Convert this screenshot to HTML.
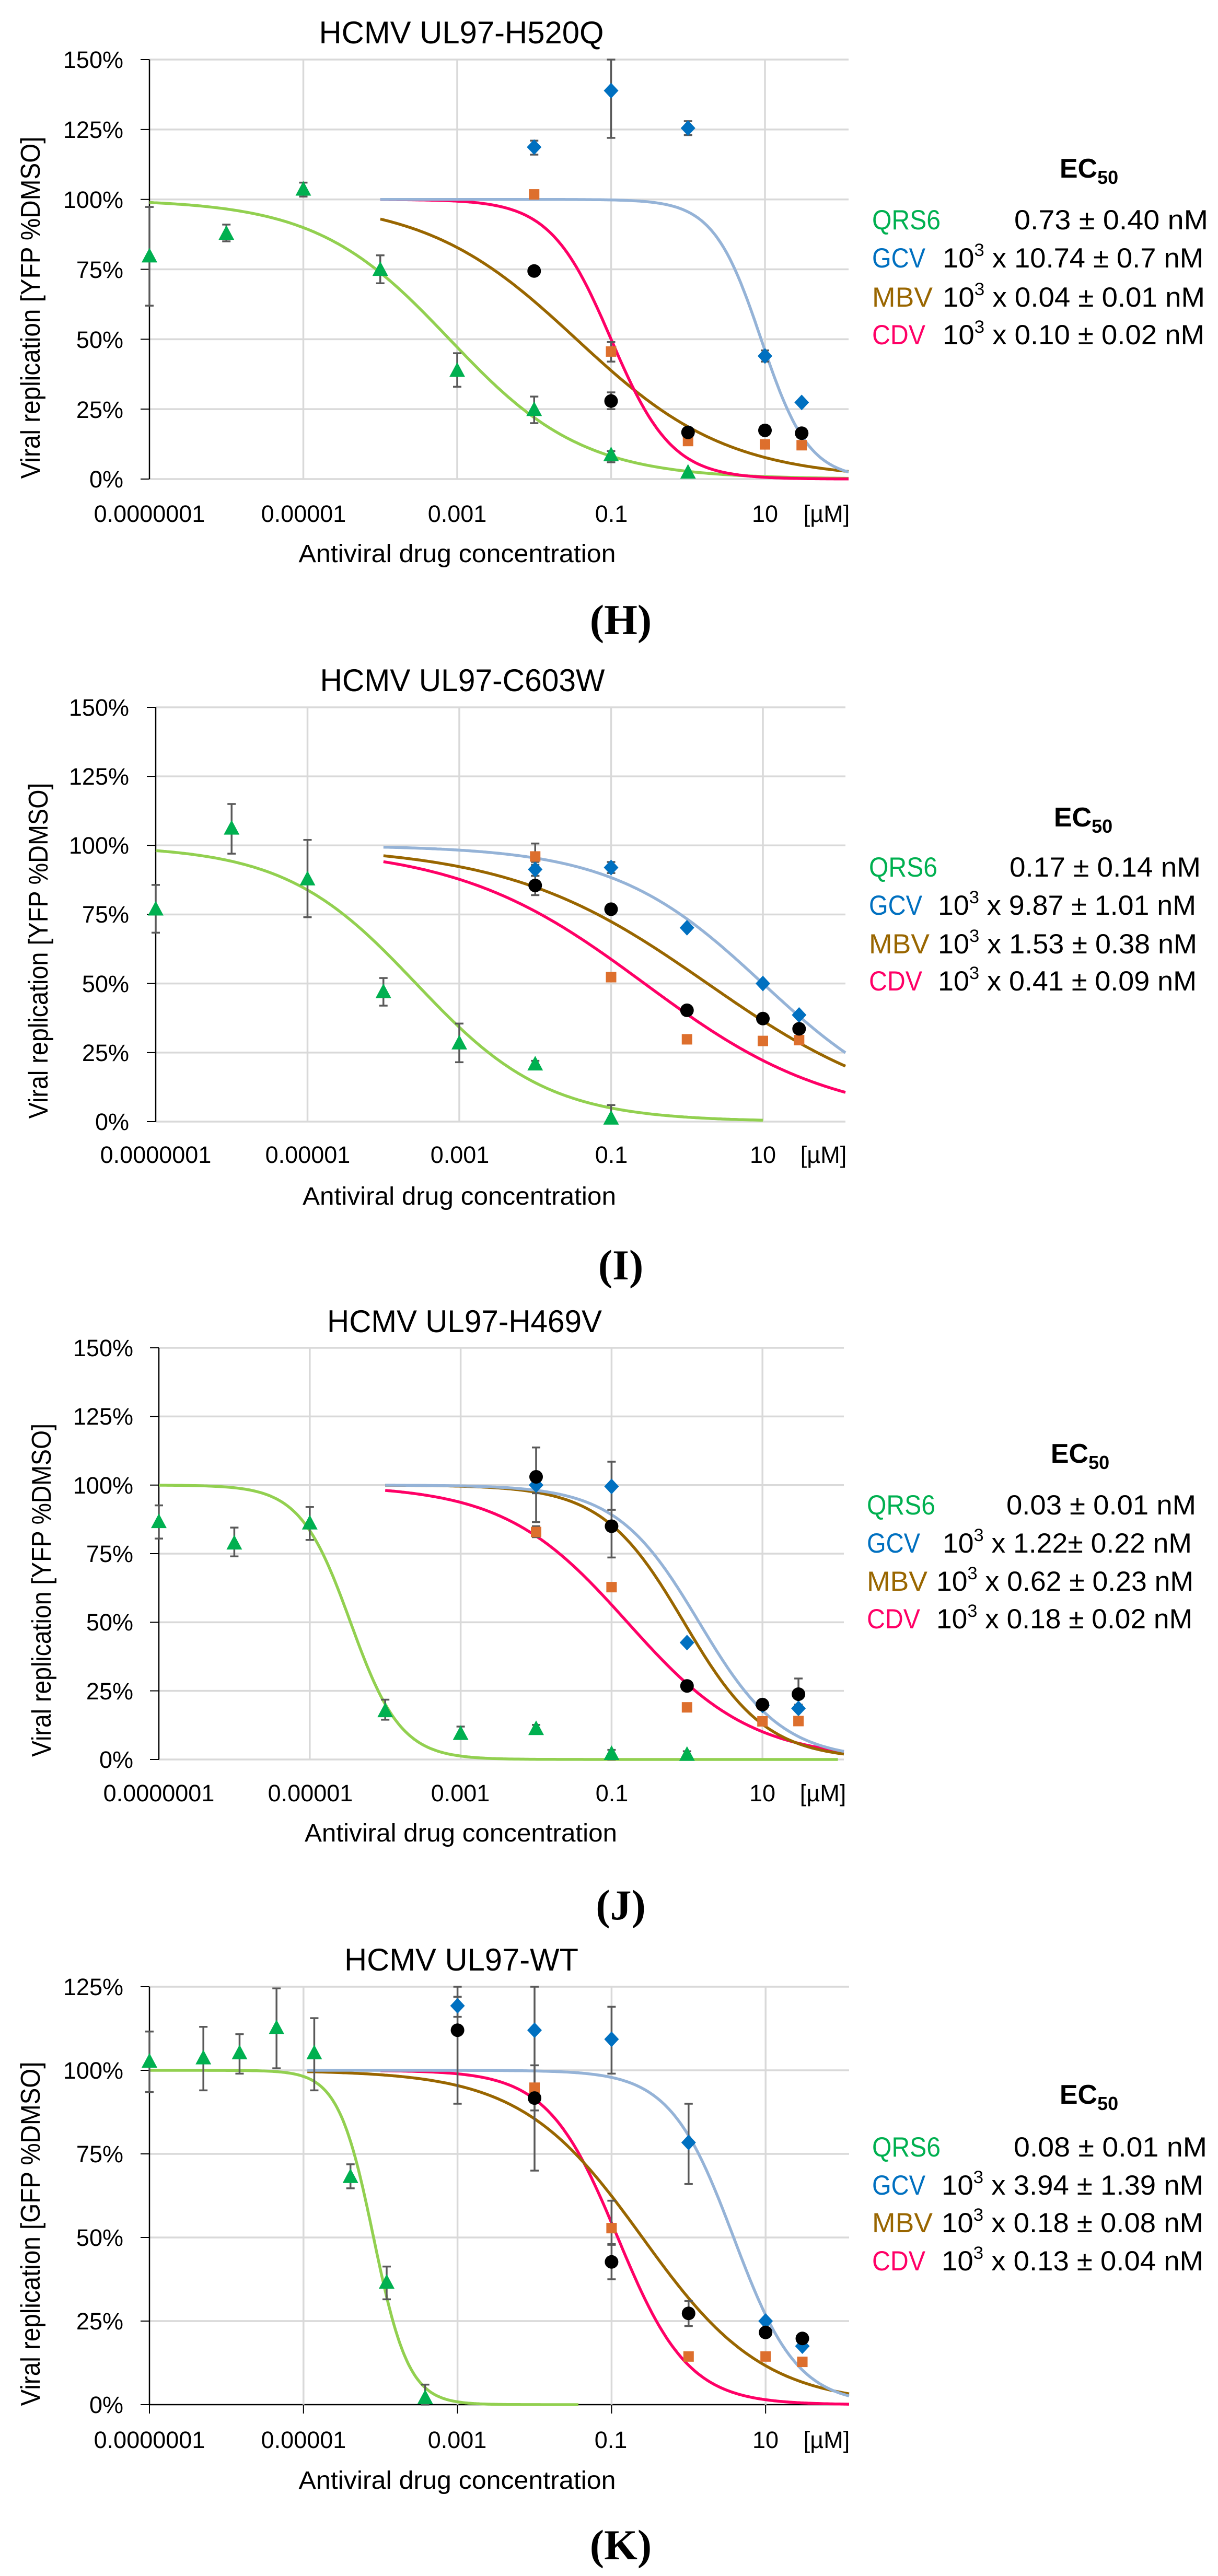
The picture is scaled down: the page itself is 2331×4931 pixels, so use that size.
<!DOCTYPE html>
<html><head><meta charset="utf-8"><style>
html,body{margin:0;padding:0;background:#fff;}
svg{display:block;}
text{font-family:"Liberation Sans",sans-serif;}
.t{font-size:60px;fill:#000;}
.tk{font-size:45px;fill:#000;}
.ax{font-size:48px;fill:#000;}
.yt{font-size:52px;fill:#000;}
.pl{font-family:"Liberation Serif",serif;font-weight:bold;font-size:82px;fill:#000;}
.lg{font-size:53px;}
.ec{font-size:52px;font-weight:bold;}
</style></head><body>
<svg id="s" width="2331" height="4931" viewBox="0 0 2331 4931" xmlns="http://www.w3.org/2000/svg">
<rect width="2331" height="4931" fill="#fff"/>
<g id="shapes"></g>

<!-- Panel H -->
<text class="t" x="883" y="83" text-anchor="middle" textLength="545" lengthAdjust="spacingAndGlyphs">HCMV UL97-H520Q</text>
<g class="tk" text-anchor="end">
<text x="236" y="130">150%</text><text x="236" y="264">125%</text><text x="236" y="398">100%</text><text x="236" y="532">75%</text><text x="236" y="666">50%</text><text x="236" y="800">25%</text><text x="236" y="933">0%</text>
</g>
<g class="tk" text-anchor="middle">
<text x="286" y="999">0.0000001</text><text x="581" y="999">0.00001</text><text x="875" y="999">0.001</text><text x="1170" y="999">0.1</text><text x="1464" y="999">10</text><text x="1582" y="999">[µM]</text>
</g>
<text class="ax" x="875" y="1076" text-anchor="middle" textLength="607" lengthAdjust="spacingAndGlyphs">Antiviral drug concentration</text>
<text class="yt" transform="translate(76,589) rotate(-90)" text-anchor="middle" textLength="655" lengthAdjust="spacingAndGlyphs">Viral replication [YFP %DMSO]</text>
<text class="pl" x="1188" y="1214" text-anchor="middle">(H)</text>
<text class="ec" x="2084" y="340" text-anchor="middle">EC<tspan font-size="36" dy="12">50</tspan></text>
<text class="lg" x="1669" y="439" fill="#00B050" textLength="131" lengthAdjust="spacingAndGlyphs">QRS6</text>
<text class="lg" x="1669" y="512" fill="#0070C0" textLength="102" lengthAdjust="spacingAndGlyphs">GCV</text>
<text class="lg" x="1669" y="587" fill="#996600" textLength="116" lengthAdjust="spacingAndGlyphs">MBV</text>
<text class="lg" x="1669" y="659" fill="#FF0066" textLength="102" lengthAdjust="spacingAndGlyphs">CDV</text>
<text class="lg" x="1941" y="439" textLength="371" lengthAdjust="spacingAndGlyphs">0.73 ± 0.40 nM</text>
<text class="lg" x="1804" y="512" textLength="499" lengthAdjust="spacingAndGlyphs">10<tspan font-size="34" dy="-22">3</tspan><tspan dy="22"> x 10.74 ± 0.7 nM</tspan></text>
<text class="lg" x="1804" y="587" textLength="502" lengthAdjust="spacingAndGlyphs">10<tspan font-size="34" dy="-22">3</tspan><tspan dy="22"> x 0.04 ± 0.01 nM</tspan></text>
<text class="lg" x="1804" y="659" textLength="501" lengthAdjust="spacingAndGlyphs">10<tspan font-size="34" dy="-22">3</tspan><tspan dy="22"> x 0.10 ± 0.02 nM</tspan></text>

<!-- Panel I -->
<text class="t" x="885" y="1323" text-anchor="middle" textLength="545" lengthAdjust="spacingAndGlyphs">HCMV UL97-C603W</text>
<g class="tk" text-anchor="end">
<text x="247" y="1370">150%</text><text x="247" y="1502">125%</text><text x="247" y="1634">100%</text><text x="247" y="1766">75%</text><text x="247" y="1899">50%</text><text x="247" y="2031">25%</text><text x="247" y="2163">0%</text>
</g>
<g class="tk" text-anchor="middle">
<text x="298" y="2226">0.0000001</text><text x="589" y="2226">0.00001</text><text x="880" y="2226">0.001</text><text x="1170" y="2226">0.1</text><text x="1460" y="2226">10</text><text x="1576" y="2226">[µM]</text>
</g>
<text class="ax" x="879" y="2306" text-anchor="middle" textLength="600" lengthAdjust="spacingAndGlyphs">Antiviral drug concentration</text>
<text class="yt" transform="translate(91,1820) rotate(-90)" text-anchor="middle" textLength="643" lengthAdjust="spacingAndGlyphs">Viral replication [YFP %DMSO]</text>
<text class="pl" x="1188" y="2449" text-anchor="middle">(I)</text>
<text class="ec" x="2073" y="1582" text-anchor="middle">EC<tspan font-size="36" dy="12">50</tspan></text>
<text class="lg" x="1663" y="1678" fill="#00B050" textLength="131" lengthAdjust="spacingAndGlyphs">QRS6</text>
<text class="lg" x="1663" y="1751" fill="#0070C0" textLength="102" lengthAdjust="spacingAndGlyphs">GCV</text>
<text class="lg" x="1663" y="1825" fill="#996600" textLength="116" lengthAdjust="spacingAndGlyphs">MBV</text>
<text class="lg" x="1663" y="1896" fill="#FF0066" textLength="102" lengthAdjust="spacingAndGlyphs">CDV</text>
<text class="lg" x="1932" y="1678" textLength="366" lengthAdjust="spacingAndGlyphs">0.17 ± 0.14 nM</text>
<text class="lg" x="1795" y="1751" textLength="494" lengthAdjust="spacingAndGlyphs">10<tspan font-size="34" dy="-22">3</tspan><tspan dy="22"> x 9.87 ± 1.01 nM</tspan></text>
<text class="lg" x="1795" y="1825" textLength="496" lengthAdjust="spacingAndGlyphs">10<tspan font-size="34" dy="-22">3</tspan><tspan dy="22"> x 1.53 ± 0.38 nM</tspan></text>
<text class="lg" x="1795" y="1896" textLength="495" lengthAdjust="spacingAndGlyphs">10<tspan font-size="34" dy="-22">3</tspan><tspan dy="22"> x 0.41 ± 0.09 nM</tspan></text>

<!-- Panel J -->
<text class="t" x="889" y="2550" text-anchor="middle" textLength="526" lengthAdjust="spacingAndGlyphs">HCMV UL97-H469V</text>
<g class="tk" text-anchor="end">
<text x="255" y="2596">150%</text><text x="255" y="2727">125%</text><text x="255" y="2859">100%</text><text x="255" y="2990">75%</text><text x="255" y="3121">50%</text><text x="255" y="3253">25%</text><text x="255" y="3384">0%</text>
</g>
<g class="tk" text-anchor="middle">
<text x="304" y="3448">0.0000001</text><text x="594" y="3448">0.00001</text><text x="881" y="3448">0.001</text><text x="1171" y="3448">0.1</text><text x="1459" y="3448">10</text><text x="1575" y="3448">[µM]</text>
</g>
<text class="ax" x="882" y="3525" text-anchor="middle" textLength="598" lengthAdjust="spacingAndGlyphs">Antiviral drug concentration</text>
<text class="yt" transform="translate(97,3044) rotate(-90)" text-anchor="middle" textLength="638" lengthAdjust="spacingAndGlyphs">Viral replication [YFP %DMSO]</text>
<text class="pl" x="1188" y="3674" text-anchor="middle">(J)</text>
<text class="ec" x="2067" y="2800" text-anchor="middle">EC<tspan font-size="36" dy="12">50</tspan></text>
<text class="lg" x="1659" y="2899" fill="#00B050" textLength="131" lengthAdjust="spacingAndGlyphs">QRS6</text>
<text class="lg" x="1659" y="2972" fill="#0070C0" textLength="102" lengthAdjust="spacingAndGlyphs">GCV</text>
<text class="lg" x="1659" y="3045" fill="#996600" textLength="116" lengthAdjust="spacingAndGlyphs">MBV</text>
<text class="lg" x="1659" y="3117" fill="#FF0066" textLength="102" lengthAdjust="spacingAndGlyphs">CDV</text>
<text class="lg" x="1926" y="2899" textLength="363" lengthAdjust="spacingAndGlyphs">0.03 ± 0.01 nM</text>
<text class="lg" x="1804" y="2972" textLength="477" lengthAdjust="spacingAndGlyphs">10<tspan font-size="34" dy="-22">3</tspan><tspan dy="22"> x 1.22± 0.22 nM</tspan></text>
<text class="lg" x="1792" y="3045" textLength="492" lengthAdjust="spacingAndGlyphs">10<tspan font-size="34" dy="-22">3</tspan><tspan dy="22"> x 0.62 ± 0.23 nM</tspan></text>
<text class="lg" x="1792" y="3117" textLength="490" lengthAdjust="spacingAndGlyphs">10<tspan font-size="34" dy="-22">3</tspan><tspan dy="22"> x 0.18 ± 0.02 nM</tspan></text>

<!-- Panel K -->
<text class="t" x="883" y="3772" text-anchor="middle" textLength="448" lengthAdjust="spacingAndGlyphs">HCMV UL97-WT</text>
<g class="tk" text-anchor="end">
<text x="236" y="3819">125%</text><text x="236" y="3979">100%</text><text x="236" y="4139">75%</text><text x="236" y="4299">50%</text><text x="236" y="4459">25%</text><text x="236" y="4619">0%</text>
</g>
<g class="tk" text-anchor="middle">
<text x="286" y="4686">0.0000001</text><text x="581" y="4686">0.00001</text><text x="875" y="4686">0.001</text><text x="1169" y="4686">0.1</text><text x="1465" y="4686">10</text><text x="1582" y="4686">[µM]</text>
</g>
<text class="ax" x="875" y="4764" text-anchor="middle" textLength="607" lengthAdjust="spacingAndGlyphs">Antiviral drug concentration</text>
<text class="yt" transform="translate(76,4276) rotate(-90)" text-anchor="middle" textLength="659" lengthAdjust="spacingAndGlyphs">Viral replication [GFP %DMSO]</text>
<text class="pl" x="1188" y="4899" text-anchor="middle">(K)</text>
<text class="ec" x="2084" y="4027" text-anchor="middle">EC<tspan font-size="36" dy="12">50</tspan></text>
<text class="lg" x="1669" y="4128" fill="#00B050" textLength="131" lengthAdjust="spacingAndGlyphs">QRS6</text>
<text class="lg" x="1669" y="4201" fill="#0070C0" textLength="102" lengthAdjust="spacingAndGlyphs">GCV</text>
<text class="lg" x="1669" y="4273" fill="#996600" textLength="116" lengthAdjust="spacingAndGlyphs">MBV</text>
<text class="lg" x="1669" y="4346" fill="#FF0066" textLength="102" lengthAdjust="spacingAndGlyphs">CDV</text>
<text class="lg" x="1940" y="4128" textLength="370" lengthAdjust="spacingAndGlyphs">0.08 ± 0.01 nM</text>
<text class="lg" x="1802" y="4201" textLength="501" lengthAdjust="spacingAndGlyphs">10<tspan font-size="34" dy="-22">3</tspan><tspan dy="22"> x 3.94 ± 1.39 nM</tspan></text>
<text class="lg" x="1802" y="4273" textLength="501" lengthAdjust="spacingAndGlyphs">10<tspan font-size="34" dy="-22">3</tspan><tspan dy="22"> x 0.18 ± 0.08 nM</tspan></text>
<text class="lg" x="1802" y="4346" textLength="501" lengthAdjust="spacingAndGlyphs">10<tspan font-size="34" dy="-22">3</tspan><tspan dy="22"> x 0.13 ± 0.04 nM</tspan></text>
</svg>
<script>
(function(){
var NS="http://www.w3.org/2000/svg",G=document.getElementById("shapes"),out=[];
var GC="#92D050",BC="#95B3D7",BR="#996600",PK="#FF0066";
var GM="#00B050",BM="#0070C0",OM="#DD6F2D",KM="#000";
var L3=Math.log10(30);
var panels=[
{x0:286,d:147.25,y0:917,py:5.353,xr:1624,max:150,K:false,
 curves:[[GC,-7,null,-3.1,0.5],[BR,-4,null,-1.45,0.44],[PK,-4,null,-1,1.1],[BC,-4,null,0.95,1.4]],
 pts:[
 ["t",GM,[[-7,79.5,62,97.3],[-6,87.6,85,91],[-5,103.4,101,106],[-4,74.7,70,80],[-3,38.6,33,45],[-2,24.6,20,29.5],[-1,8.4,6,10],[0,2.2]]],
 ["d",BM,[[-2,118.7,116,121],[-1,138.9,122,150],[0,125.5,123,128],[1,44,42,46],[L3,27.4]]],
 ["s",OM,[[-2,101.8],[-1,45.6,42,49],[0,13.6],[1,12.4],[L3,12.1]]],
 ["c",KM,[[-2,74.4],[-1,27.9,25,31],[0,16.7,15,18],[1,17.4],[L3,16.4,15,18]]]]},
{x0:298,d:145.25,y0:2147,py:5.287,xr:1618,max:150,K:false,
 curves:[[GC,-7,1,-3.57,0.5],[PK,-4,null,-0.56,0.35],[BR,-4,null,0.27,0.33],[BC,-4,null,1,0.44]],
 pts:[
 ["t",GM,[[-7,76.7,68.4,85.7],[-6,106,97,115],[-5,87.6,74,102],[-4,46.8,42,52],[-3,28.2,21.5,35.5],[-2,20.6,19.5,22],[-1,1,0,6]]],
 ["d",BM,[[-2,91.3,89,94],[-1,92,90,94],[0,70.2],[1,50],[L3,38.6]]],
 ["s",OM,[[-2,96,93,100.7],[-1,52.3],[0,29.8],[1,29.2],[L3,29.5]]],
 ["c",KM,[[-2,85.5,82,89],[-1,76.9],[0,40.3],[1,37.3],[L3,33.6]]]]},
{x0:304,d:144.4,y0:3368,py:5.253,xr:1615,max:150,K:false,
 curves:[[GC,-7,2,-4.46,1.3],[PK,-4,null,-0.79,0.53],[BR,-4,null,-0.04,0.8],[BC,-4,null,0.16,0.79]],
 pts:[
 ["t",GM,[[-7,86.4,80.5,92.6],[-6,78.6,74,84.5],[-5,85.9,80,92],[-4,17.5,14.5,21.8],[-3,9.2,8,12],[-2,11,10,12.6],[-1,1.9,0,3.5],[0,1.6,0,3]]],
 ["d",BM,[[-2,100,97,103],[-1,99.5,91,108.5],[0,42.6],[1,19.7],[L3,18.6]]],
 ["s",OM,[[-2,82.9,81,85],[-1,62.8],[0,19],[1,13.9],[L3,14]]],
 ["c",KM,[[-2,103,86.5,113.7],[-1,85,73.6,91],[0,26.8],[1,20],[L3,23.8,20,29.5]]]]},
{x0:286,d:147.4,y0:4603,py:6.4,xr:1625,max:125,K:true,
 curves:[[GC,-7,-1.43,-4.09,1.9],[PK,-4,null,-0.92,0.95],[BR,-4.95,null,-0.6,0.55],[BC,-4.95,null,0.585,1.05]],
 pts:[
 ["t",GM,[[-7,102.5,93.5,111.6],[-6.3,103.5,94,113],[-5.83,105,99,110.8],[-5.35,112.5,100.6,124.5],[-4.86,105,94,115.6],[-4.39,68,64.7,71.9],[-3.92,36.4,31.5,41.3],[-3.42,1.9,0,6]]],
 ["d",BM,[[-3,119.3,116,122],[-2,112,70,125],[-1,109.3,99,119],[0,78.4,66,90],[1,25],[L3,17.5]]],
 ["s",OM,[[-2,94.8],[-1,52.8,48,61],[0,14.4],[1,14.4],[L3,12.8]]],
 ["c",KM,[[-3,112,90,125],[-2,91.7,88,101.5],[-1,42.7,37.5,47.8],[0,27.3,23.5,31],[1,21.6],[L3,19.8]]]]}
];
function el(t,a){var e=document.createElementNS(NS,t);for(var k in a)e.setAttribute(k,a[k]);G.appendChild(e);return e;}
panels.forEach(function(p){
 var X=function(l){return p.x0+(l+7)*p.d},Y=function(v){return p.y0-v*p.py};
 var top=Y(p.max),lend=(p.xr-p.x0)/p.d-7;
 // horizontal grid
 for(var v=0;v<=p.max;v+=25){
  var isAxis=(v==0&&p.K);
  el("line",{x1:p.x0,y1:Y(v),x2:p.xr,y2:Y(v),stroke:isAxis?"#000":"#D9D9D9","stroke-width":isAxis?2.5:3.5});
  el("line",{x1:p.x0-17,y1:Y(v),x2:p.x0,y2:Y(v),stroke:"#000","stroke-width":2});
 }
 [-5,-3,-1,1].forEach(function(l){el("line",{x1:X(l),y1:top,x2:X(l),y2:Y(0),stroke:"#D9D9D9","stroke-width":3.5});});
 el("line",{x1:p.x0,y1:top,x2:p.x0,y2:Y(0),stroke:"#000","stroke-width":2.5});
 if(p.K){[-7,-5,-3,-1,1].forEach(function(l){el("line",{x1:X(l),y1:Y(0),x2:X(l),y2:Y(0)+17,stroke:"#000","stroke-width":2});});}
 // curves
 p.curves.forEach(function(c){
  var a=c[1],b=c[2]==null?lend:c[2],s="";
  for(var i=0;i<=300;i++){var l=a+(b-a)*i/300,v=100/(1+Math.pow(10,(l-c[3])*c[4]));s+=(i?"L":"M")+X(l).toFixed(1)+" "+Y(v).toFixed(1);}
  el("path",{d:s,fill:"none",stroke:c[0],"stroke-width":5.5,"stroke-linejoin":"round"});
 });
 // error bars
 p.pts.forEach(function(g){g[2].forEach(function(q){
  if(q.length<4)return;var x=X(q[0]),lo=Math.max(0,q[2]),hi=Math.min(p.max,q[3]);
  el("line",{x1:x,y1:Y(lo),x2:x,y2:Y(hi),stroke:"#595959","stroke-width":3.5});
  el("line",{x1:x-8,y1:Y(lo),x2:x+8,y2:Y(lo),stroke:"#595959","stroke-width":3.5});
  if(q[3]<=p.max)el("line",{x1:x-8,y1:Y(hi),x2:x+8,y2:Y(hi),stroke:"#595959","stroke-width":3.5});
 });});
 // markers
 p.pts.forEach(function(g){g[2].forEach(function(q){
  var x=X(q[0]),y=Y(q[1]),f=g[1];
  if(g[0]=="t")el("polygon",{points:(x)+","+(y-17)+" "+(x-15)+","+(y+11)+" "+(x+15)+","+(y+11),fill:f});
  else if(g[0]=="d")el("polygon",{points:x+","+(y-15)+" "+(x+14)+","+y+" "+x+","+(y+15)+" "+(x-14)+","+y,fill:f});
  else if(g[0]=="s")el("rect",{x:x-10,y:y-10,width:20,height:20,fill:f});
  else el("circle",{cx:x,cy:y,r:13,fill:f});
 });});
});
})();
</script>
</body></html>
